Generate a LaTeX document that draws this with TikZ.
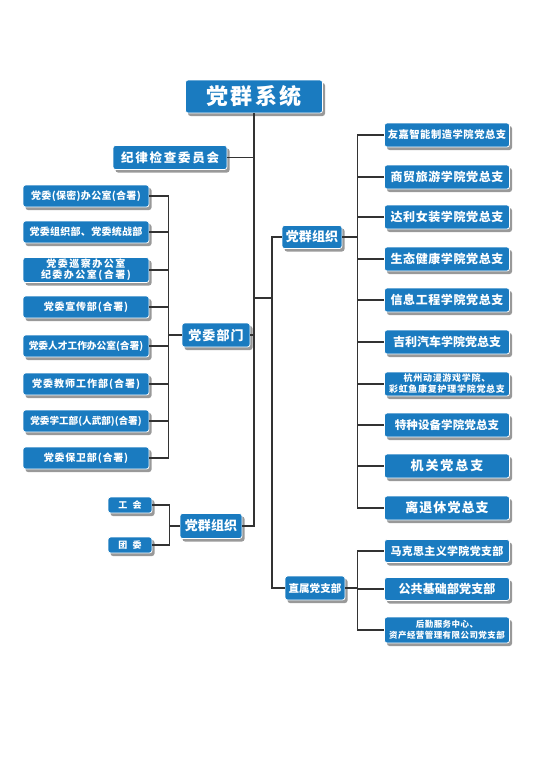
\documentclass[tikz,border=0pt]{standalone}
\usepackage{fontspec}
\newfontfamily\cjk{Noto Sans CJK SC}
\usetikzlibrary{shadows}
\definecolor{partyblue}{HTML}{1A7BC0}
\definecolor{linegray}{HTML}{333333}
% size, baseline, letter spacing
\newcommand\boxfont[3]{\cjk\bfseries\fontsize{#1}{#2}\selectfont\addfontfeature{LetterSpace=#3}}

\begin{document}
\begin{tikzpicture}[
    x=1pt, y=-1pt,
    box/.style={rectangle, rounded corners=2.5pt, fill=partyblue, draw=white,
        line width=0.8pt, text=white, align=center, inner sep=0pt,
        drop shadow={shadow xshift=2.5pt, shadow yshift=-3pt, fill=black!40, opacity=1}},
    leftbox/.style={box, minimum width=126, minimum height=22},
    rightbox/.style={box, minimum width=125, minimum height=24},
    link/.style={draw=linegray, line width=1.6pt}
]
    \useasboundingbox (0,0) rectangle (543,768);

    % Define coordinates
    % Top of the tree
    \node (title) at (254,96.5) [box, minimum width=137, minimum height=33, font=\boxfont{22}{24}{10}] {党群系统};
    \node (jw) at (170,157.5) [box, minimum width=114, minimum height=24, font=\boxfont{12.5}{14}{14}] {纪律检查委员会};

    % Left branches
    \node (dwbm) at (216,335) [box, minimum width=68, minimum height=24, font=\boxfont{13}{15}{8}] {党委部门};
    \node (dqzz) at (211,526) [box, minimum width=62, minimum height=25, font=\boxfont{13}{15}{1}] {党群组织};

    % Party committee departments
    \node (l1) at (86,196) [leftbox, font=\boxfont{10}{12}{3}] {党委(保密)办公室(合署)};
    \node (l2) at (86,232) [leftbox, font=\boxfont{10}{12}{3}] {党委组织部、党委统战部};
    \node (l3) at (86,270) [leftbox, minimum height=25, font=\boxfont{10}{11}{15}] {党委巡察办公室\\纪委办公室(合署)};
    \node (l4) at (86,307) [leftbox, font=\boxfont{10}{12}{8}] {党委宣传部(合署)};
    \node (l5) at (86,346) [leftbox, font=\boxfont{9.7}{12}{0}] {党委人才工作办公室(合署)};
    \node (l6) at (86,384) [leftbox, font=\boxfont{10}{12}{10}] {党委教师工作部(合署)};
    \node (l7) at (86,421) [leftbox, font=\boxfont{9.6}{12}{0}] {党委学工部(人武部)(合署)};
    \node (l8) at (86,458) [leftbox, font=\boxfont{10}{12}{8}] {党委保卫部(合署)};

    % Mass organisations
    \node (g1) at (130,505) [box, minimum width=44, minimum height=16, font=\boxfont{9}{10}{60}] {工会};
    \node (g2) at (130,545) [box, minimum width=44, minimum height=16, font=\boxfont{9}{10}{60}] {团委};

    % Right branches
    \node (dqzzr) at (312,237) [box, minimum width=60, minimum height=23, font=\boxfont{13}{15}{1}] {党群组织};
    \node (zsdzb) at (315,588) [box, minimum width=60, minimum height=24, font=\boxfont{10.5}{12}{1}] {直属党支部};

    % General branches
    \node (r1) at (447,135) [rightbox, font=\boxfont{10.3}{12}{5}] {友嘉智能制造学院党总支};
    \node (r2) at (447,177) [rightbox, font=\boxfont{12}{14}{5}] {商贸旅游学院党总支};
    \node (r3) at (447,217) [rightbox, font=\boxfont{12}{14}{5}] {达利女装学院党总支};
    \node (r4) at (447,259) [rightbox, font=\boxfont{12}{14}{5}] {生态健康学院党总支};
    \node (r5) at (447,300) [rightbox, font=\boxfont{12}{14}{5}] {信息工程学院党总支};
    \node (r6) at (447,342) [rightbox, font=\boxfont{12}{14}{0}] {吉利汽车学院党总支};
    \node (r7) at (447,384) [rightbox, font=\boxfont{9}{11}{8}] {杭州动漫游戏学院、\\彩虹鱼康复护理学院党总支};
    \node (r8) at (447,425) [rightbox, font=\boxfont{11.5}{14}{1}] {特种设备学院党总支};
    \node (r9) at (447,466) [rightbox, font=\boxfont{13}{15}{15}] {机关党总支};
    \node (r10) at (447,508) [rightbox, font=\boxfont{13}{15}{8}] {离退休党总支};

    % Directly affiliated branches
    \node (z1) at (447,551) [rightbox, minimum height=23, font=\boxfont{11}{13}{3}] {马克思主义学院党支部};
    \node (z2) at (447,589) [rightbox, minimum height=23, font=\boxfont{12}{14}{1}] {公共基础部党支部};
    \node (z3) at (447,630) [rightbox, minimum height=26, font=\boxfont{8.5}{10.5}{5}] {后勤服务中心、\\资产经营管理有限公司党支部};

    % Trunk
    \coordinate (rb) at (254,298);
    \coordinate (rbus) at (272,298);
    \draw[link] (title.south) -- (title.south |- dqzz.east) -- (dqzz.east);
    \draw[link] (jw.east) -- (jw.east -| title.south);
    \draw[link] (dwbm.east) -- (dwbm.east -| title.south);
    \draw[link] (rb) -- (rbus);
    \draw[link] (dqzzr.west) -| (rbus) |- (zsdzb.west);

    % Connect children to their parents
    \foreach \i in {1,...,8}
        \draw[link] (dwbm.west) -- ++(-13,0) |- (l\i.east);
    \foreach \i in {1,2}
        \draw[link] (dqzz.west) -- ++(-10,0) |- (g\i.east);
    \foreach \i in {1,...,10}
        \draw[link] (dqzzr.east) -- ++(15,0) |- (r\i.west);
    \foreach \i in {1,2,3}
        \draw[link] (zsdzb.east) -- ++(12,0) |- (z\i.west);
\end{tikzpicture}
\end{document}
